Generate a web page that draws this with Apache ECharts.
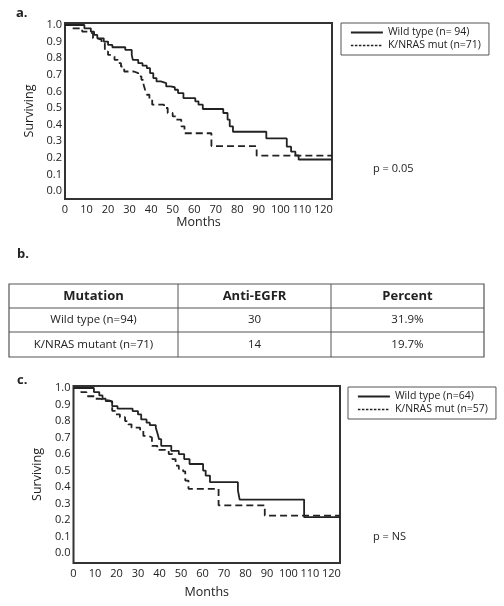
<!DOCTYPE html>
<html>
<head>
<meta charset="utf-8">
<script src="https://cdn.jsdelivr.net/npm/echarts@6/dist/echarts.min.js"></script>
<style>
html,body{margin:0;padding:0;background:#fff;}
#chart{width:504px;height:606px;}
</style>
</head>
<body>
<div id="chart"></div>
<script>
// ---- Data (panel a) ----
const aWildName = 'Wild type (n= 94)';
const aMutName = 'K/NRAS mut (n=71)';
const aWild = [[0,1.0],[9,0.98],[12,0.96],[13.5,0.94],[15,0.92],[18,0.90],[20,0.88],[22,0.866],[28,0.85],[31,0.82],[31.5,0.79],[34,0.77],[36,0.755],[38,0.74],[39.5,0.71],[41,0.68],[42.5,0.66],[44.5,0.65],[47,0.63],[49,0.625],[51,0.61],[52.5,0.59],[55,0.56],[60.5,0.54],[62,0.52],[64,0.494],[73.5,0.47],[75.5,0.43],[76.5,0.39],[78,0.357],[93.5,0.317],[103,0.267],[105,0.237],[107,0.215],[108.5,0.19],[124,0.19]];
const aMut = [[0,1.0],[3,0.98],[8,0.96],[11,0.95],[13,0.92],[15,0.91],[17,0.89],[18.5,0.84],[20,0.82],[21.5,0.81],[23,0.79],[24.5,0.77],[26,0.75],[27.5,0.72],[32,0.71],[34,0.69],[35.5,0.67],[36.5,0.64],[37.2,0.61],[38,0.58],[39.2,0.55],[40.5,0.52],[46,0.50],[47.7,0.47],[50,0.45],[51.7,0.43],[54,0.39],[55.5,0.348],[68,0.271],[89,0.213],[124,0.213]];
const aPText = 'p = 0.05';

// ---- Data (panel b, table) ----
const tableHeader = ['Mutation', 'Anti-EGFR', 'Percent'];
const tableRows = [
  ['Wild type (n=94)', '30', '31.9%'],
  ['K/NRAS mutant (n=71)', '14', '19.7%']
];

// ---- Data (panel c) ----
const cWildName = 'Wild type (n=64)';
const cMutName = 'K/NRAS mut (n=57)';
const cWild = [[0,1.0],[9.5,0.975],[12,0.955],[13.5,0.935],[15,0.92],[18,0.89],[20.5,0.875],[27.5,0.86],[30,0.84],[31.5,0.81],[34,0.79],[35.5,0.775],[38.3,0.76],[39.2,0.72],[39.8,0.69],[40.8,0.65],[45.5,0.62],[49,0.60],[51.5,0.57],[54,0.54],[60.3,0.50],[61.5,0.47],[63.5,0.43],[76.5,0.38],[77.3,0.325],[107.3,0.218],[124,0.218]];
const cMut = [[0,1.0],[3.5,0.975],[6,0.95],[10,0.935],[12,0.923],[17,0.913],[18,0.862],[19.3,0.84],[21.6,0.823],[24,0.80],[25.5,0.78],[27,0.76],[31,0.74],[32.5,0.71],[35,0.70],[36.5,0.65],[39,0.625],[44.3,0.60],[46,0.57],[47.5,0.53],[49,0.51],[51,0.496],[52,0.44],[53.5,0.39],[67.5,0.29],[89,0.228],[124,0.228]];
const cPText = 'p = NS';

// ---- Axis ticks ----
const yTicks = [0,0.1,0.2,0.3,0.4,0.5,0.6,0.7,0.8,0.9,1.0];
const xTicks = [0,10,20,30,40,50,60,70,80,90,100,110,120];
const xName = 'Months';
const yName = 'Surviving';

// ---- Styling ----
const FONT = "'Open Sans', 'DejaVu Sans', sans-serif";
const INK = '#222';

function xAx(gi, gap) {
  return {
    gridIndex: gi, type: 'value', min: 0, max: 124,
    name: xName, nameLocation: 'middle', nameGap: gap,
    nameTextStyle: {fontFamily: FONT, fontSize: 12.5, color: INK},
    axisLine: {show: false}, axisTick: {show: false}, splitLine: {show: false},
    axisLabel: {customValues: xTicks, margin: 5, fontFamily: FONT, fontSize: 11, color: INK}
  };
}
function yAx(gi, min, max) {
  return {
    gridIndex: gi, type: 'value', min: min, max: max,
    name: yName, nameLocation: 'middle', nameGap: 27, nameRotate: 90,
    nameTextStyle: {fontFamily: FONT, fontSize: 12.5, color: INK},
    axisLine: {show: false}, axisTick: {show: false}, splitLine: {show: false},
    axisLabel: {customValues: yTicks, margin: 3, fontFamily: FONT, fontSize: 11, color: INK,
      formatter: v => Number(v).toFixed(1)}
  };
}
function ser(name, data, gi, dashed) {
  return {
    name: name, type: 'line', step: 'end', data: data, symbol: 'none',
    xAxisIndex: gi, yAxisIndex: gi, color: INK,
    lineStyle: {color: INK, width: 1.8, type: dashed ? [7, 4] : 'solid'},
    emphasis: {disabled: true}, silent: true
  };
}
function legendFor(names, left, top) {
  return {
    data: [
      {name: names[0], lineStyle: {type: 'solid', width: 1.8}},
      {name: names[1], lineStyle: {type: [2.5, 1.5], width: 1.5}}
    ],
    orient: 'vertical', left: left, top: top,
    borderColor: '#555', borderWidth: 1, borderRadius: 0,
    padding: [4, 8, 4, 9], itemGap: 2, itemWidth: 32, itemHeight: 10,
    itemStyle: {opacity: 0, borderWidth: 0},
    textStyle: {fontFamily: FONT, fontSize: 10.5, color: INK},
    selectedMode: false
  };
}

// table graphics
const T = {left: 9, right: 484, top: 284, rowH: [24, 24, 25], cols: [9, 178, 331, 484]};
const tableEls = [];
let yy = T.top;
const rowsAll = [tableHeader].concat(tableRows);
rowsAll.forEach((row, ri) => {
  const h = T.rowH[ri];
  row.forEach((txt, ci) => {
    tableEls.push({
      type: 'text',
      x: (T.cols[ci] + T.cols[ci + 1]) / 2, y: yy + h / 2,
      style: {text: txt, fill: INK, fontFamily: FONT, fontSize: ri === 0 ? 13 : 11.5,
        fontWeight: ri === 0 ? 'bold' : 'normal', align: 'center', verticalAlign: 'middle'}
    });
  });
  yy += h;
  if (ri < rowsAll.length - 1) {
    tableEls.push({type: 'line', shape: {x1: T.left, y1: yy, x2: T.right, y2: yy},
      style: {stroke: '#555', lineWidth: 1}});
  }
});
const tableBottom = yy;
for (let ci = 1; ci < T.cols.length - 1; ci++) {
  tableEls.push({type: 'line', shape: {x1: T.cols[ci], y1: T.top, x2: T.cols[ci], y2: tableBottom},
    style: {stroke: '#555', lineWidth: 1}});
}
tableEls.push({type: 'rect', shape: {x: T.left, y: T.top, width: T.right - T.left, height: tableBottom - T.top},
  style: {fill: 'none', stroke: '#555', lineWidth: 1.2}});

function label(txt, x, y, bold, size) {
  return {type: 'text', x: x, y: y, style: {text: txt, fill: INK, fontFamily: FONT,
    fontSize: size, fontWeight: bold ? 'bold' : 'normal', verticalAlign: 'middle'}};
}

const chart = echarts.init(document.getElementById('chart'), null, {renderer: 'canvas'});
chart.setOption({
  animation: false,
  backgroundColor: '#fff',
  grid: [
    {left: 65, top: 23, width: 267, height: 176, show: true, borderColor: '#333', borderWidth: 2, backgroundColor: 'transparent'},
    {left: 73.5, top: 386, width: 266.5, height: 177, show: true, borderColor: '#333', borderWidth: 2, backgroundColor: 'transparent'}
  ],
  xAxis: [xAx(0, 13), xAx(1, 23)],
  yAxis: [yAx(0, -0.048, 1.012), yAx(1, -0.059, 1.012)],
  legend: [
    legendFor([aWildName, aMutName], 341, 23),
    legendFor([cWildName, cMutName], 348, 387)
  ],
  series: [
    ser(aWildName, aWild, 0, false),
    ser(aMutName, aMut, 0, true),
    ser(cWildName, cWild, 1, false),
    ser(cMutName, cMut, 1, true)
  ],
  graphic: [
    label('a.', 16, 13, true, 13),
    label('b.', 17, 254, true, 13),
    label('c.', 17, 380, true, 13),
    label(aPText, 373, 169, false, 11),
    label(cPText, 373, 537, false, 11)
  ].concat(tableEls)
});
</script>
</body>
</html>
